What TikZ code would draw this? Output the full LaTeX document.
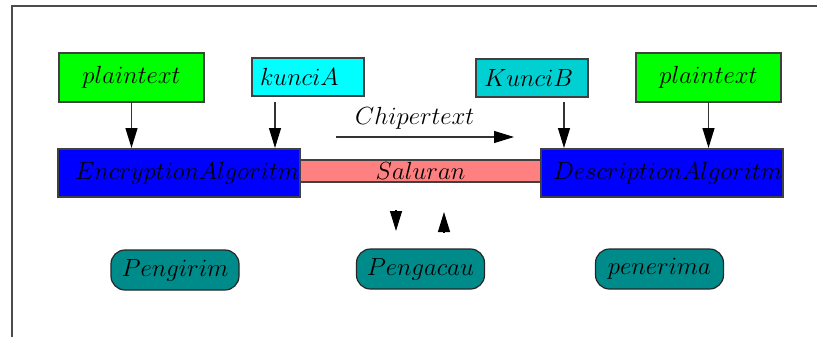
\RequirePackage{fix-cm}
\documentclass[tikz,border=0pt]{standalone}
\usetikzlibrary{arrows.meta, positioning}

\definecolor{plaingreen}{RGB}{0,255,0}
\definecolor{keycyan}{RGB}{0,255,255}
\definecolor{keyteal}{RGB}{0,208,210}
\definecolor{algoblue}{RGB}{0,0,255}
\definecolor{linkred}{RGB}{255,128,128}
\definecolor{partyteal}{RGB}{0,139,139}

\begin{document}
\begin{tikzpicture}[
            x = 0.5pt, y = -0.5pt, % one unit per pixel
            > = {Triangle[length=10pt, width=6pt, color=black]}, % arrow head style
            shorten > = 0.5pt, % don't touch arrow head to node
            font = \fontsize{12.4}{15}\selectfont,
            line width = 0.6pt
        ]

        \tikzstyle{box}=[
            draw = black!75,
            inner sep = 0pt,
            outer sep = 0pt
        ]
        \tikzstyle{textbox}=[box, fill = plaingreen, minimum width = 72.5pt, minimum height = 24.5pt]
        \tikzstyle{keybox}=[box, inner xsep = 4pt, text width = 48pt, align = left, minimum height = 19pt]
        \tikzstyle{algobox}=[box, fill = algoblue, minimum height = 24pt, align = left]
        \tikzstyle{party}=[
            draw = black!85,
            fill = partyteal,
            rounded corners = 7pt,
            minimum width = 64pt,
            minimum height = 20pt
        ]

        \useasboundingbox (0,0) rectangle (818,337);
        \draw[black!70, line width = 0.8pt] (12,337) -- (12,6) -- (818,6);

        \node[textbox] (pa) at (131.5,77.5) {$plaintext$};
        \node[keybox, fill = keycyan] (ka) at (308,77) {$kunciA$};
        \node[keybox, fill = keyteal] (kb) at (532,78) {$KunciB$};
        \node[textbox] (pb) at (708.5,77.5) {$plaintext$};

        \node[algobox, inner xsep = 8.5pt, text width = 104pt] (enc) at (179,173) {$EncryptionAlgoritm$};
        \node[box, fill = linkred, minimum width = 120.5pt, minimum height = 11pt, yshift = 1pt] (sal) [right = 0pt of enc.east] {$Saluran$};
        \node[algobox, inner xsep = 6pt, text width = 109pt] (dec) at (662,173) {$DescriptionAlgoritm$};

        \node[party] (snd) at (175,270) {$Pengirim$};
        \node[party] (jam) at (420.5,269) {$Pengacau$};
        \node[party] (rcv) at (659.5,269) {$penerima$};

        \coordinate (kaout) at ([xshift = 11.5pt]ka.south west);
        \coordinate (kbout) at ([xshift = 44pt]kb.south west);
        \coordinate (cta) at (336,137);
        \coordinate (ctb) at (515,137);
        \coordinate (tapa) at (396,210);
        \coordinate (tapb) at (396,232);
        \coordinate (tapc) at (444,232);
        \coordinate (tapd) at (444,211);

        \path[->] (pa.south) edge[black!80] (pa.south |- enc.north);
        \path[->] (kaout) edge[black!80, shorten < = 3pt] (kaout |- enc.north);
        \path[->] (kbout) edge[black!80, shorten < = 2.5pt] (kbout |- dec.north);
        \path[->] (pb.south) edge[black!80] (pb.south |- dec.north);

        \path[->] (cta) edge[black!80] node[above, pos = 0.44, black] {$Chipertext$} (ctb);
        \path[->] (tapa) edge (tapb);
        \path[->] (tapc) edge (tapd);

  \end{tikzpicture}
\end{document}
